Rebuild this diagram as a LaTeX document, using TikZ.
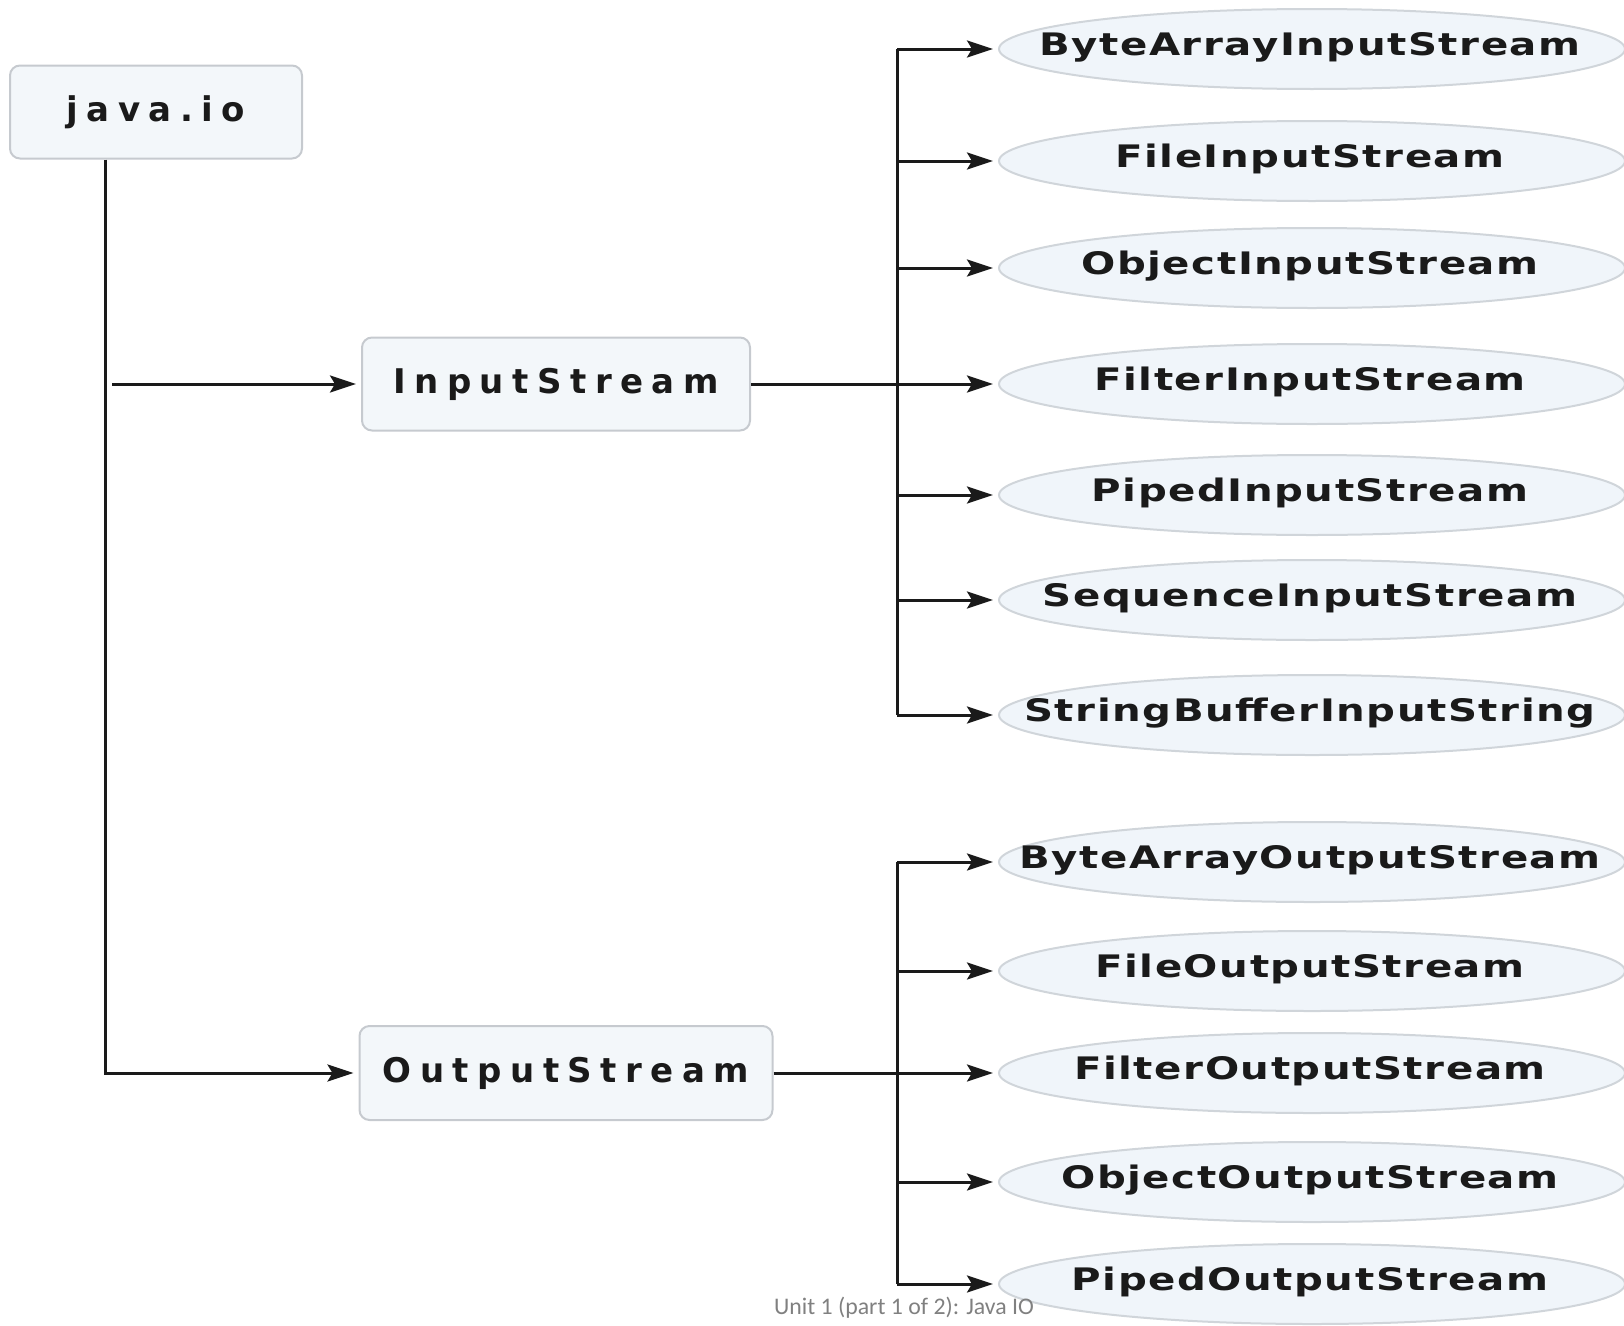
\documentclass[tikz,border=0pt]{standalone}
\usepackage{fontspec}
\setmainfont{DejaVu Sans}
\newfontfamily\capfont{Carlito}
\newfontfamily\widefont[FakeStretch=1.3, LetterSpace=5]{DejaVu Sans}
\usetikzlibrary{shapes.geometric,arrows.meta}
\definecolor{boxfill}{HTML}{F3F7FA}
\definecolor{boxline}{HTML}{C6CACF}
\definecolor{ellfill}{HTML}{F0F5FA}
\definecolor{ellline}{HTML}{D0D5DA}
\definecolor{inkc}{HTML}{1A1A1A}
\definecolor{capc}{HTML}{808080}
\begin{document}
\begin{tikzpicture}[x=1pt,y=-1pt,
  pkgbox/.style={draw=boxline, fill=boxfill, line width=2pt, rounded corners=10pt,
    inner sep=0pt, text=inkc,
    font=\fontsize{34}{40}\selectfont\bfseries\addfontfeature{LetterSpace=25}},
  cls/.style={ellipse, draw=ellline, fill=ellfill, line width=2pt, inner sep=0pt,
    minimum width=626pt, minimum height=80pt},
  clstext/.style={inner sep=0pt, text=inkc,
    font=\widefont\fontsize{31}{36}\selectfont\bfseries},
  arr/.style={draw=inkc, line width=3pt,
    -{Stealth[length=26pt,width=17pt,inset=5pt]}, shorten >=5pt},
  wire/.style={draw=inkc, line width=3pt}
]
\useasboundingbox (0,0) rectangle (1624,1325);

% package and the two abstract base classes
\node[pkgbox, minimum width=292pt, minimum height=93pt] (io) at (156,112) {java.io};
\node[pkgbox, minimum width=388pt, minimum height=93pt] (in) at (556,384) {InputStream};
\node[pkgbox, minimum width=413pt, minimum height=94pt] (out) at (566,1073) {OutputStream};

% subclasses: fixed-size ellipse with its class name on top
\foreach \n/\y/\t in {
    bais/49/ByteArrayInputStream,
    fis/161/FileInputStream,
    ois/268/ObjectInputStream,
    filt/384/FilterInputStream,
    pis/495/PipedInputStream,
    sis/600/SequenceInputStream,
    sbis/715/StringBufferInputString,
    baos/862/ByteArrayOutputStream,
    fos/971/FileOutputStream,
    filo/1073/FilterOutputStream,
    oos/1182/ObjectOutputStream,
    pos/1284/PipedOutputStream}{
  \node[cls] (\n) at (1312,\y) {};
  \node[clstext] (\n-t) at (1310,\y-2) {\t};
}

% trunk from the package
\coordinate (tk) at (105,1073);
\coordinate (instart) at (112,384);
\draw[arr] (io.south -| tk) |- (out.west);
\draw[arr] (instart) -- (in.west);

% input branch bus
\coordinate (ib) at (897,384);
\draw[wire] (in.east) -- (ib);
\draw[wire] (ib |- bais) -- (ib |- sbis);
\foreach \c in {bais,fis,ois,filt,pis,sis,sbis}
  \draw[arr] (ib |- \c) -- (\c.west);

% output branch bus
\coordinate (ob) at (897,1073);
\draw[wire] (out.east) -- (ob);
\draw[wire] (ob |- baos) -- (ob |- pos);
\foreach \c in {baos,fos,filo,oos,pos}
  \draw[arr] (ob |- \c) -- (\c.west);

\node[text=capc, font=\capfont\fontsize{23.8}{26}\selectfont] (cap) at (904,1308)
  {Unit 1 (part 1 of 2): Java IO};
\end{tikzpicture}
\end{document}
